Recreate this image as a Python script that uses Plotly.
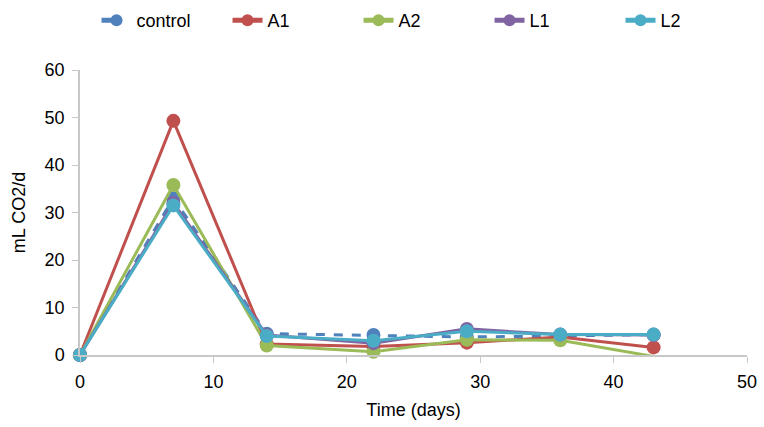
import plotly.graph_objects as go

days = [0, 7, 14, 22, 29, 36, 43]
control = [0, 33.0, 4.5, 4.2, 3.8, 4.0, 4.3]
A1 = [0, 49.3, 2.3, 1.8, 2.6, 3.8, 1.6]
A2 = [0, 35.8, 2.0, 0.7, 3.2, 3.1, -0.3]
L1 = [0, 32.0, 4.2, 2.5, 5.5, 4.3, 4.2]
L2 = [0, 31.5, 4.0, 3.0, 5.0, 4.3, 4.3]

series = [
    ("control", control, "#4F81BD", "dash"),
    ("A1", A1, "#C0504D", "solid"),
    ("A2", A2, "#9BBB59", "solid"),
    ("L1", L1, "#8064A2", "solid"),
    ("L2", L2, "#4BACC6", "solid"),
]

fig = go.Figure()
for name, vals, color, dash in series:
    sizes = [14 if v >= 0 else 0 for v in vals]
    fig.add_trace(go.Scatter(
        x=days, y=vals, name=name, mode="lines+markers",
        line=dict(color=color, width=3, dash=dash),
        marker=dict(color=color, size=sizes, opacity=1, line=dict(width=0)),
        cliponaxis=False,
    ))

fig.update_layout(
    width=764, height=427,
    margin=dict(l=80, r=17, t=70, b=72, autoexpand=False),
    paper_bgcolor="white", plot_bgcolor="white",
    font=dict(family="Liberation Sans, Arial", size=17, color="#000"),
    legend=dict(orientation="h", x=0.555, xanchor="center", xref="container",
                y=0.952, yanchor="middle", yref="container",
                font=dict(size=18), entrywidth=86, itemsizing="constant"),
    showlegend=True,
)
fig.update_xaxes(range=[0, 50], dtick=10, showgrid=False, zeroline=False,
                 showline=True, linecolor="#C8C8C8", linewidth=1.5,
                 ticks="outside", ticklen=6, tickcolor="#C8C8C8", ticklabelstandoff=4,
                 tickfont=dict(size=18),
                 title=dict(text="Time (days)", font=dict(size=18), standoff=12))
fig.update_yaxes(range=[0, 60], dtick=10, showgrid=False, zeroline=False,
                 showline=True, linecolor="#C8C8C8", linewidth=1.5,
                 ticks="outside", ticklen=6, tickcolor="#C8C8C8", ticklabelstandoff=4,
                 tickfont=dict(size=18),
                 title=dict(text="mL CO2/d", font=dict(size=18), standoff=14))

fig.write_html("out.html")
